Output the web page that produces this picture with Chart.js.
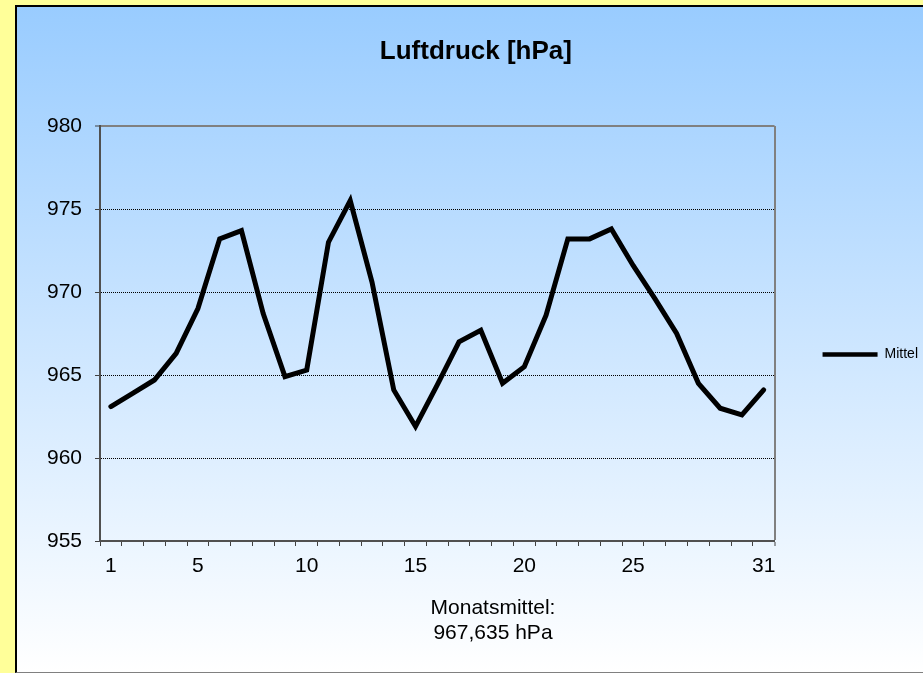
<!DOCTYPE html>
<html>
<head>
<meta charset="utf-8">
<script src="https://cdn.jsdelivr.net/npm/chart.js@4/dist/chart.umd.min.js"></script>
<style>
html, body { margin: 0; padding: 0; width: 923px; height: 673px; overflow: hidden; background: #FFFF99; }
#frame { position: absolute; left: 15px; top: 5px; width: 940px; height: 665px;
  border-left: 2px solid #000; border-top: 2px solid #000; border-bottom: 1px solid #808080;
  background: linear-gradient(to bottom, #99CCFF 0%, #FFFFFF 100%); }
#c { position: absolute; left: 0; top: 0; }
</style>
</head>
<body>
<div id="frame"></div>
<canvas id="c" width="928" height="673"></canvas>
<script>
const chartTitle = 'Luftdruck [hPa]';
const seriesName = 'Mittel';
const days = ['1','2','3','4','5','6','7','8','9','10','11','12','13','14','15','16','17','18','19','20','21','22','23','24','25','26','27','28','29','30','31'];
const shownDays = ['1','5','10','15','20','25','31'];
const mittel = [963.1, 963.9, 964.7, 966.3, 969.0, 973.2, 973.7, 968.7, 964.9, 965.3,
                973.0, 975.5, 970.6, 964.1, 961.9, 964.4, 967.0, 967.7, 964.5, 965.5,
                968.6, 973.2, 973.2, 973.8, 971.6, 969.6, 967.5, 964.5, 963.0, 962.6, 964.1];
const yMin = 955, yMax = 980, yStep = 5;
const footerLines = ['Monatsmittel:', '967,635 hPa'];

const FONT = "'Liberation Sans', Arial, sans-serif";

const footerPlugin = {
  id: 'footerText',
  afterDraw(chart) {
    const ctx = chart.ctx;
    ctx.save();
    ctx.font = '21px ' + FONT;
    ctx.fillStyle = '#000';
    ctx.textAlign = 'center';
    ctx.textBaseline = 'middle';
    footerLines.forEach((t, i) => ctx.fillText(t, 493, 608.5 + i * 25));
    ctx.restore();
  }
};

new Chart(document.getElementById('c'), {
  type: 'line',
  data: {
    labels: days,
    datasets: [{
      label: seriesName,
      data: mittel,
      borderColor: '#000',
      backgroundColor: '#000',
      borderWidth: 5,
      pointRadius: 0,
      pointHoverRadius: 0,
      tension: 0,
      fill: false,
      borderJoinStyle: 'miter',
      borderCapStyle: 'round'
    }]
  },
  options: {
    responsive: false,
    animation: false,
    devicePixelRatio: 1,
    layout: { padding: { top: 36, left: 23.7, right: 0, bottom: 0 } },
    plugins: {
      tooltip: { enabled: false },
      title: {
        display: true,
        text: chartTitle,
        color: '#000',
        font: { family: FONT, size: 26, weight: 'bold', lineHeight: 1 },
        padding: { top: 3, bottom: 61 }
      },
      legend: {
        display: true,
        position: 'right',
        align: 'center',
        labels: {
          usePointStyle: true,
          pointStyle: 'line',
          pointStyleWidth: 55,
          padding: 48,
          color: '#000',
          font: { family: FONT, size: 14 },
          generateLabels(chart) {
            return Chart.defaults.plugins.legend.labels.generateLabels(chart)
              .map(l => Object.assign(l, { lineCap: 'butt', lineWidth: 4.5 }));
          }
        }
      }
    },
    scales: {
      x: {
        type: 'category',
        offset: true,
        grid: {
          offset: true,
          drawOnChartArea: true,
          drawTicks: true,
          tickLength: 5,
          tickWidth: 1,
          tickColor: '#404040',
          color: c => c.type === 'tick' ? 'rgba(0,0,0,0)' : '#808080',
          lineWidth: c => c.type === 'tick' ? 1 : 2
        },
        border: { display: true, color: '#505050', width: 2 },
        ticks: {
          autoSkip: false,
          maxRotation: 0,
          minRotation: 0,
          padding: 8,
          color: '#000',
          font: { family: FONT, size: 21 },
          callback(v, i) { return shownDays.includes(days[i]) ? days[i] : ''; }
        },
        afterFit(scale) { scale.height = 132; }
      },
      y: {
        min: yMin,
        max: yMax,
        grid: {
          drawTicks: true,
          tickLength: 5,
          tickWidth: 1,
          tickColor: '#404040',
          color: c => !c.tick ? '#000' : (c.tick.value === yMax ? '#808080' : (c.tick.value === yMin ? 'rgba(0,0,0,0)' : '#000')),
          lineWidth: c => (c.tick && c.tick.value === yMax) ? 2 : 1
        },
        border: {
          display: true, color: '#505050', width: 2,
          dash: c => (c.tick && c.tick.value === yMax) ? [] : [1, 1]
        },
        ticks: {
          stepSize: yStep,
          padding: 13,
          color: '#000',
          font: { family: FONT, size: 21 }
        },
        afterFit(scale) { scale.width = 76.3; }
      }
    }
  },
  plugins: [footerPlugin]
});
</script>
</body>
</html>
